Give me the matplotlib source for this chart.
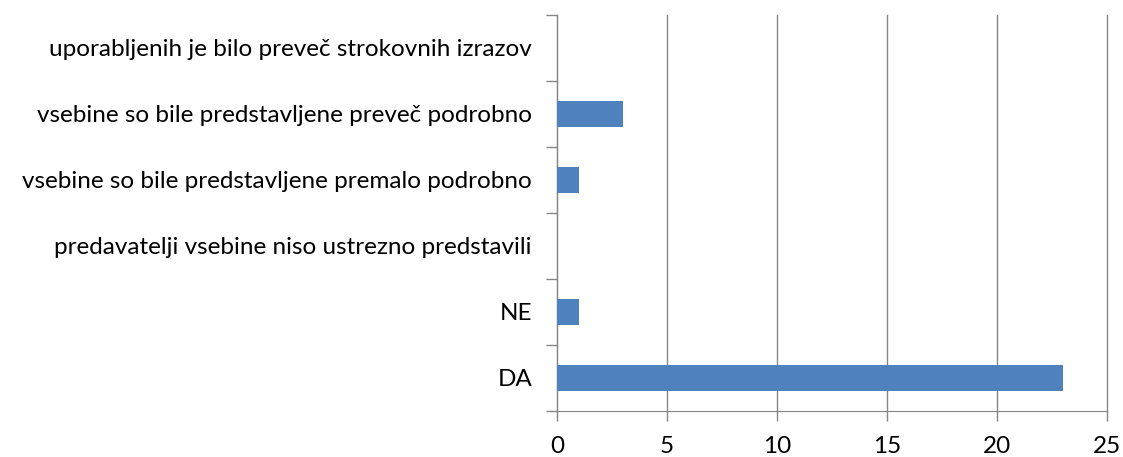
import matplotlib

matplotlib.use("Agg")
import matplotlib.pyplot as plt

categories = [
    "DA",
    "NE",
    "predavatelji vsebine niso ustrezno predstavili",
    "vsebine so bile predstavljene premalo podrobno",
    "vsebine so bile predstavljene preveč podrobno",
    "uporabljenih je bilo preveč strokovnih izrazov",
]
counts = [23, 1, 0, 1, 3, 0]
x_ticks = [0, 5, 10, 15, 20, 25]

plt.rcParams["font.family"] = ["Lato", "DejaVu Sans"]

fig = plt.figure(figsize=(11.23, 4.57), dpi=100)
ax = fig.add_axes([557 / 1123, 1 - 411 / 457, 550 / 1123, 396 / 457])

pos = list(range(len(categories)))
ax.barh(pos, counts, height=0.4, color="#4F81BD", zorder=3)

ax.set_xlim(0, 25)
ax.set_ylim(-0.5, len(categories) - 0.5)
ax.set_xticks(x_ticks)
ax.set_xticklabels([str(t) for t in x_ticks], fontsize=17.5)
ax.set_yticks(pos)
ax.set_yticklabels(categories, fontsize=17.5)
ax.set_yticks([p - 0.5 for p in pos] + [len(categories) - 0.5], minor=True)

ax.tick_params(axis="y", which="major", length=0, pad=18)
ax.tick_params(axis="y", which="minor", length=8, color="#868686", width=1)
ax.tick_params(axis="x", length=7, color="#868686", width=1, pad=11)

ax.grid(axis="x", color="#868686", linewidth=1, zorder=0)
for gl in ax.get_xgridlines():
    gl.set_clip_on(False)
for side in ["top", "right"]:
    ax.spines[side].set_visible(False)
ax.spines["left"].set_color("#868686")
ax.spines["bottom"].set_color("#868686")

fig.savefig("out.png", dpi=100)
